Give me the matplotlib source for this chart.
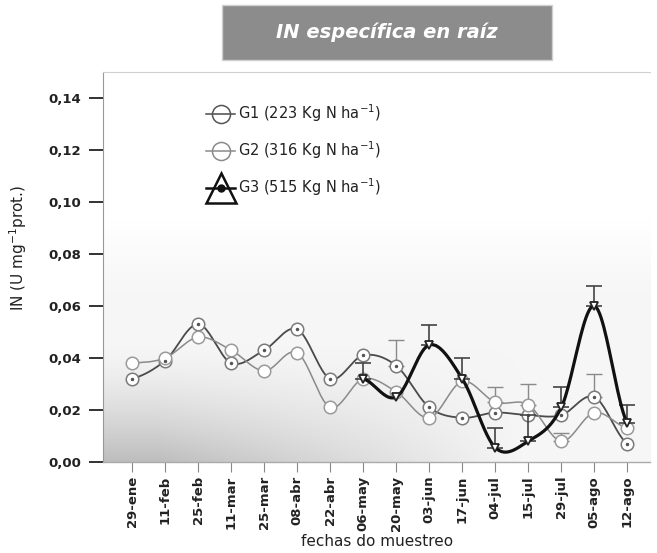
import numpy as np
import matplotlib
matplotlib.use("Agg")
import matplotlib.pyplot as plt
from matplotlib.patches import Rectangle
from matplotlib.lines import Line2D
from matplotlib.legend_handler import HandlerTuple

plt.rcParams["font.family"] = ["DejaVu Sans"]

# Sampling dates
fechas = ["29-ene", "11-feb", "25-feb", "11-mar", "25-mar", "08-abr", "22-abr",
          "06-may", "20-may", "03-jun", "17-jun", "04-jul", "15-jul", "29-jul",
          "05-ago", "12-ago"]

# Specific nitrate reductase activity in roots (U mg-1 prot.)
g1 = [0.032, 0.039, 0.053, 0.038, 0.043, 0.051, 0.032, 0.041, 0.037, 0.021,
      0.017, 0.019, 0.018, 0.018, 0.025, 0.007]
g2 = [0.038, 0.040, 0.048, 0.043, 0.035, 0.042, 0.021, 0.032, 0.027, 0.017,
      0.031, 0.023, 0.022, 0.008, 0.019, 0.013]
g3 = [np.nan] * 7 + [0.032, 0.025, 0.045, 0.032, 0.0055, 0.008, 0.021, 0.060,
                     0.015]

# Upper error (standard error)
g1_err = [0, 0, 0, 0, 0, 0, 0, 0, 0.010, 0, 0, 0, 0, 0, 0.009, 0]
g2_err = [0, 0, 0, 0, 0, 0, 0, 0, 0, 0, 0, 0.006, 0.008, 0.003, 0, 0]
g3_err = [0, 0, 0, 0, 0, 0, 0, 0.006, 0, 0.0075, 0.008, 0.0075, 0.010, 0.008,
          0.0075, 0.007]

labels = ["G1 (223 Kg N ha$^{-1}$)", "G2 (316 Kg N ha$^{-1}$)",
          "G3 (515 Kg N ha$^{-1}$)"]
titulo = "IN específica en raíz"


def smooth(x, y, n=24):
    """Catmull-Rom curve through the points (spreadsheet-style smoothing)."""
    x = np.asarray(x, float)
    y = np.asarray(y, float)
    px = np.concatenate([[2 * x[0] - x[1]], x, [2 * x[-1] - x[-2]]])
    py = np.concatenate([[y[0]], y, [y[-1]]])
    xs, ys = [], []
    t = np.linspace(0, 1, n, endpoint=False)
    for i in range(1, len(px) - 2):
        for arr, out in ((px, xs), (py, ys)):
            p0, p1, p2, p3 = arr[i - 1], arr[i], arr[i + 1], arr[i + 2]
            out.extend(0.5 * ((2 * p1) + (-p0 + p2) * t
                              + (2 * p0 - 5 * p1 + 4 * p2 - p3) * t ** 2
                              + (-p0 + 3 * p1 - 3 * p2 + p3) * t ** 3))
    xs.append(x[-1])
    ys.append(y[-1])
    return np.array(xs), np.array(ys)


fig = plt.figure(figsize=(6.57, 5.53), dpi=100)
ax = fig.add_axes([0.157, 0.1646, 0.833, 0.7054])

x = np.arange(len(fechas))
ax.set_xlim(-0.88, 15.7)
ax.set_ylim(0, 0.15)

# Soft grey shading of the plotting area
h, w = 200, 300
yy = np.linspace(1, 0, h)[:, None]
xx = np.linspace(0, 1, w)[None, :]
band = np.clip((0.62 - yy) / 0.2, 0, 1) * 0.035
haze = np.clip((0.3 - yy) / 0.3, 0, 1) ** 1.4 * np.clip(1.15 - xx * 1.5, 0, 1) * 0.22
shade = 1 - band - haze
ax.imshow(np.dstack([shade] * 3), extent=[0, 1, 0, 1], transform=ax.transAxes,
          aspect="auto", zorder=0, interpolation="bilinear")

series = [
    (g1, g1_err, "#4a4a4a", 1.3, "#7a7a7a"),
    (g2, g2_err, "#8a8a8a", 1.1, "#9a9a9a"),
]
for vals, err, lc, lw, mc in series:
    v = np.asarray(vals)
    sx, sy = smooth(x, v)
    ax.plot(sx, sy, color=lc, lw=lw, zorder=3)
    e = np.asarray(err)
    m = e > 0
    ax.errorbar(x[m], v[m], yerr=[np.zeros(m.sum()), e[m]], fmt="none",
                ecolor="#8a8a8a", elinewidth=1.0, capsize=6, capthick=1.0,
                zorder=2)
    ax.plot(x, v, ls="none", marker="o", ms=9, mfc="white", mec=mc, mew=1.1,
            zorder=4)
ax.plot(x, g1, ls="none", marker=".", ms=3, color="#555555", zorder=5)

v3 = np.asarray(g3)
ok = ~np.isnan(v3)
sx, sy = smooth(x[ok], v3[ok])
ax.plot(sx, sy, color="#111111", lw=2.3, zorder=6)
e3 = np.asarray(g3_err)
m3 = e3 > 0
ax.errorbar(x[m3], v3[m3], yerr=[np.zeros(m3.sum()), e3[m3]], fmt="none",
            ecolor="#444444", elinewidth=1.2, capsize=6, capthick=1.2, zorder=5)
ax.plot(x[ok], v3[ok], ls="none", marker="v", ms=6, mfc="white",
        mec="#222222", mew=1.3, zorder=7)

# Axes styling
ax.set_xticks(x)
ax.set_xticklabels(fechas, rotation=90, fontsize=9.5, fontweight="bold",
                   color="#222222")
ax.set_yticks(np.arange(0, 0.141, 0.02))
ax.set_yticklabels([f"{t:.2f}".replace(".", ",") for t in np.arange(0, 0.141, 0.02)],
                   fontsize=9.5, fontweight="bold", color="#222222")
ax.tick_params(axis="y", length=10, width=1.3, color="#222222", pad=6)
ax.tick_params(axis="x", length=7, width=0.8, color="#888888", pad=3)
ax.spines["right"].set_visible(False)
ax.spines["top"].set_color("#d0d0d0")
ax.spines["top"].set_linewidth(0.8)
ax.spines["left"].set_color("#999999")
ax.spines["bottom"].set_color("#aaaaaa")
ax.spines["bottom"].set_linewidth(1.0)

ax.set_xlabel("fechas do muestreo", fontsize=11, color="#222222", labelpad=2)
ax.set_ylabel("IN (U mg$^{-1}$prot.)", fontsize=11, color="#222222")
ax.yaxis.set_label_coords(-0.135, 0.55)

# Legend
h1 = Line2D([], [], color="#4a4a4a", lw=1.1, marker="o", ms=13, mfc="none",
            mec="#555555", mew=1.1)
h2 = Line2D([], [], color="#8a8a8a", lw=1.1, marker="o", ms=13, mfc="none",
            mec="#8a8a8a", mew=1.1)
h3a = Line2D([], [], color="#111111", lw=1.8, marker="^", ms=22, mfc="none",
             mec="#111111", mew=1.8)
h3b = Line2D([], [], ls="none", marker="o", ms=5, color="#111111")
leg = ax.legend([h1, h2, (h3a, h3b)], labels, loc="upper left",
                bbox_to_anchor=(0.305, 0.825), bbox_transform=fig.transFigure,
                frameon=False, fontsize=10.5, handlelength=2.0,
                handletextpad=0.15, labelspacing=1.05, borderaxespad=0,
                handler_map={tuple: HandlerTuple(ndivide=1, pad=0)})
for t in leg.get_texts():
    t.set_color("#222222")

# Title banner
fig.patches.append(Rectangle((0.338, 0.8915), 0.502, 0.0995,
                             transform=fig.transFigure, facecolor="#8c8c8c",
                             edgecolor="#d0d0d0", lw=1.0, zorder=1))
fig.text(0.589, 0.941, titulo, ha="center", va="center", fontsize=14,
         fontweight="bold", fontstyle="italic", color="white", zorder=2)

fig.savefig("out.png", dpi=100)
